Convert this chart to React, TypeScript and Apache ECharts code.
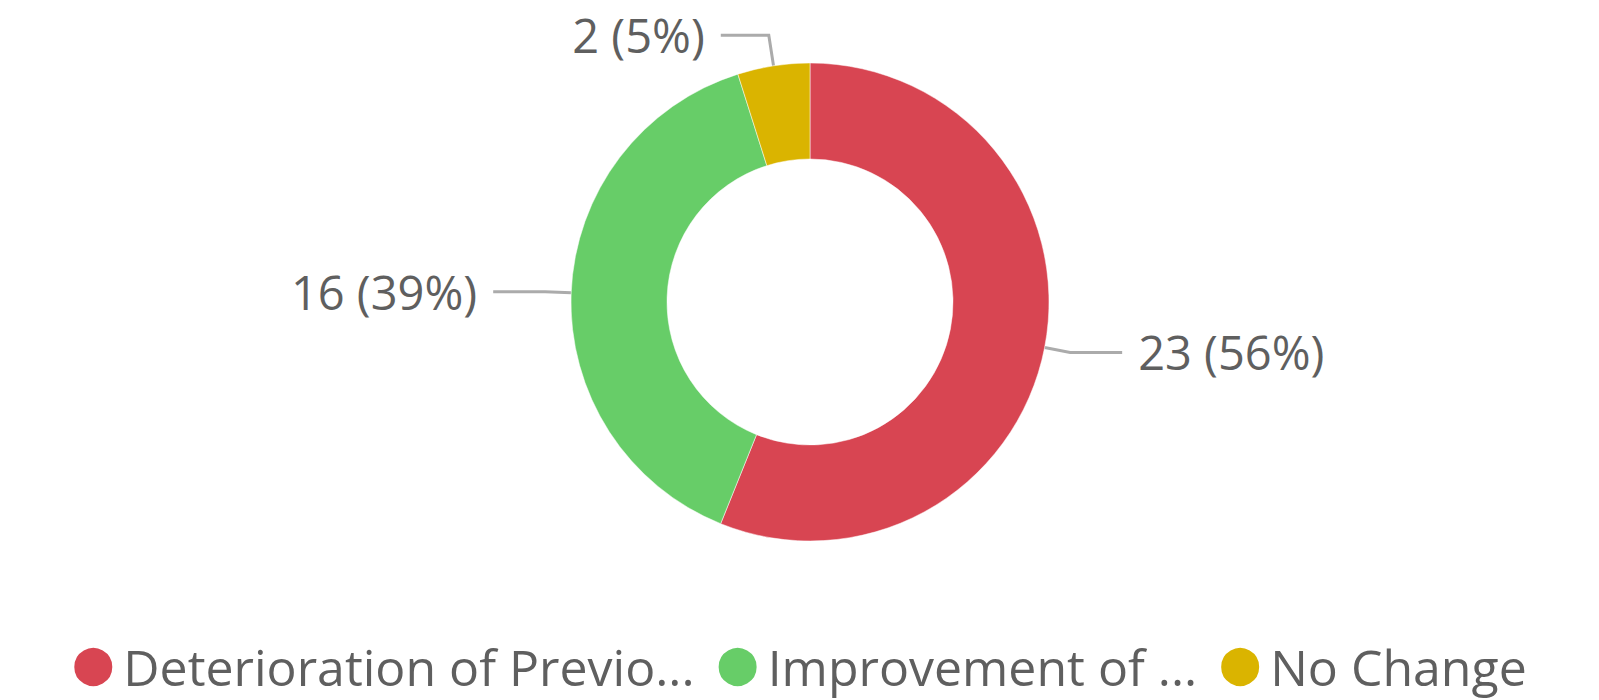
import React, { useEffect, useRef } from "react";
import * as echarts from "echarts";

const categories = [
  "Deterioration of Previous Condition",
  "Improvement of Previous Condition",
  "No Change",
];
const legendLabels = ["Deterioration of Previo...", "Improvement of ...", "No Change"];
const values = [23, 16, 2];
const colors = ["#D84552", "#67CD68", "#DAB400"];

export default function App() {
  const ref = useRef<HTMLDivElement>(null);
  useEffect(() => {
    if (!ref.current) return;
    const chart = echarts.init(ref.current, undefined, { renderer: "svg" });
    const total = values.reduce((a, b) => a + b, 0);
    chart.setOption({
      animation: false,
      textStyle: { fontFamily: "'Open Sans', 'Noto Sans', sans-serif" },
      legend: {
        bottom: 8,
        left: "center",
        icon: "circle",
        itemWidth: 50,
        itemHeight: 40,
        itemGap: 22,
        padding: 0,
        textStyle: {
          fontSize: 50,
          lineHeight: 50,
          color: "#5f5f5f",
          fontFamily: "'Open Sans', sans-serif",
        },
        formatter: (name: string) => legendLabels[categories.indexOf(name)],
        data: categories,
      },
      series: [
        {
          type: "pie",
          center: [810, 302],
          radius: [143, 239],
          startAngle: 90,
          clockwise: true,
          avoidLabelOverlap: false,
          itemStyle: { borderColor: "#fff", borderWidth: 0.5 },
          label: {
            show: true,
            position: "outside",
            fontSize: 47,
            color: "#5f5f5f",
            fontFamily: "'Open Sans', sans-serif",
            distanceToLabelLine: 16,
            formatter: (p: any) => `${p.value} (${Math.round((p.value / total) * 100)}%)`,
          },
          labelLine: {
            show: true,
            length: 26,
            length2: 52,
            lineStyle: { color: "#ababab", width: 3 },
          },
          data: categories.map((name, i) => ({
            name,
            value: values[i],
            itemStyle: { color: colors[i] },
            labelLine: i === 2 ? { length: 31, length2: 48 } : undefined,
          })),
        },
      ],
    });
    return () => chart.dispose();
  }, []);
  return (
    <div
      ref={ref}
      style={{ position: "absolute", left: 0, top: 0, width: 1599, height: 700 }}
    />
  );
}
